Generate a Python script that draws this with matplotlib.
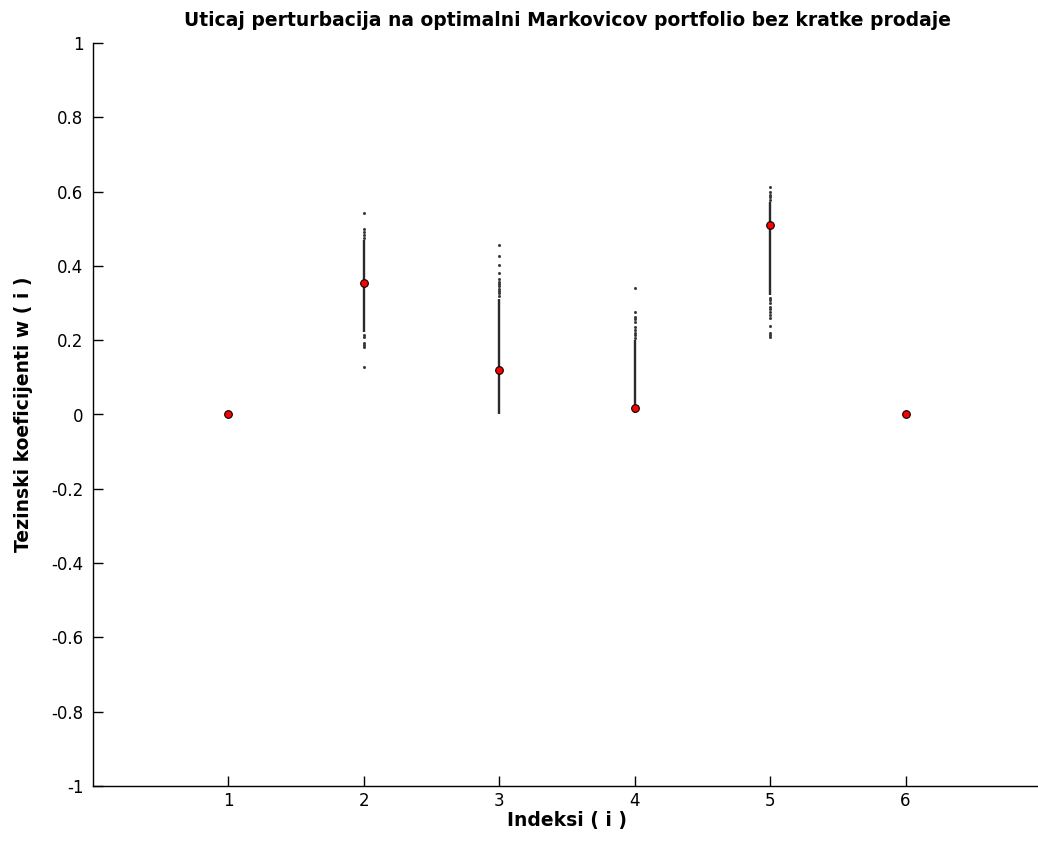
import matplotlib
matplotlib.use('Agg')
import matplotlib.pyplot as plt

plt.rcParams['font.family'] = ['DejaVu Sans']

# indeksi i optimalni tezinski koeficijenti
indices = [1, 2, 3, 4, 5, 6]
optimal_w = [0.0, 0.353, 0.12, 0.017, 0.51, 0.0]

# gust deo perturbovanih tezina (puna linija)
dense_lo = [0.0, 0.222, 0.0, 0.004, 0.322, 0.0]
dense_hi = [0.0, 0.470, 0.310, 0.200, 0.572, 0.0]

# pojedinacne perturbovane tezine van gustog dela
scatter_w = {
    2: [0.543, 0.500, 0.490, 0.482, 0.475, 0.214, 0.209, 0.192, 0.186, 0.182, 0.128],
    3: [0.456, 0.427, 0.402, 0.381, 0.365, 0.358, 0.350, 0.346, 0.338, 0.332, 0.327, 0.318],
    4: [0.340, 0.276, 0.263, 0.256, 0.249, 0.236, 0.228, 0.219, 0.213, 0.206],
    5: [0.612, 0.599, 0.592, 0.585, 0.577, 0.314, 0.307, 0.300, 0.289, 0.283,
        0.276, 0.268, 0.260, 0.238, 0.219, 0.214, 0.209],
}

xticks = [1, 2, 3, 4, 5, 6]
yticks = [-1, -0.8, -0.6, -0.4, -0.2, 0, 0.2, 0.4, 0.6, 0.8, 1]
ytick_labels = ['-1', '-0.8', '-0.6', '-0.4', '-0.2', '0', '0.2', '0.4', '0.6', '0.8', '1']

fig = plt.figure(figsize=(10.38, 8.47), dpi=100)
ax = fig.add_axes([93 / 1038, 61 / 847, 948 / 1038, 743 / 847])

for i, lo, hi in zip(indices, dense_lo, dense_hi):
    if hi > lo:
        ax.vlines(i, lo, hi, color='#2a2a2a', linewidth=1.7, zorder=2)

for i, vals in scatter_w.items():
    ax.plot([i] * len(vals), vals, linestyle='none', marker='s', markersize=1.0,
            markerfacecolor='#333333', markeredgecolor='#333333', zorder=2)

ax.plot(indices, optimal_w, linestyle='none', marker='o', markersize=5.5,
        markerfacecolor='red', markeredgecolor='black', markeredgewidth=0.8, zorder=3)

ax.set_xlim(0, 7)
ax.set_ylim(-1, 1)
ax.set_xticks(xticks)
ax.set_xticklabels([str(t) for t in xticks])
ax.set_yticks(yticks)
ax.set_yticklabels(ytick_labels)
ax.tick_params(direction='in', length=7, width=1, labelsize=12, colors='black')
ax.tick_params(axis='y', pad=7)
ax.tick_params(axis='x', pad=4)
ax.spines['top'].set_visible(False)
ax.spines['right'].set_visible(False)
ax.spines['left'].set_linewidth(1)
ax.spines['bottom'].set_linewidth(1)

ax.set_title('Uticaj perturbacija na optimalni Markovicov portfolio bez kratke prodaje',
             fontsize=13.5, fontweight='bold', pad=12)
ax.set_xlabel('Indeksi ( i )', fontsize=13.5, fontweight='bold', labelpad=1)
ax.set_ylabel('Tezinski koeficijenti w ( i )', fontsize=13.5, fontweight='bold', labelpad=13)

fig.savefig('out.png', dpi=100)
